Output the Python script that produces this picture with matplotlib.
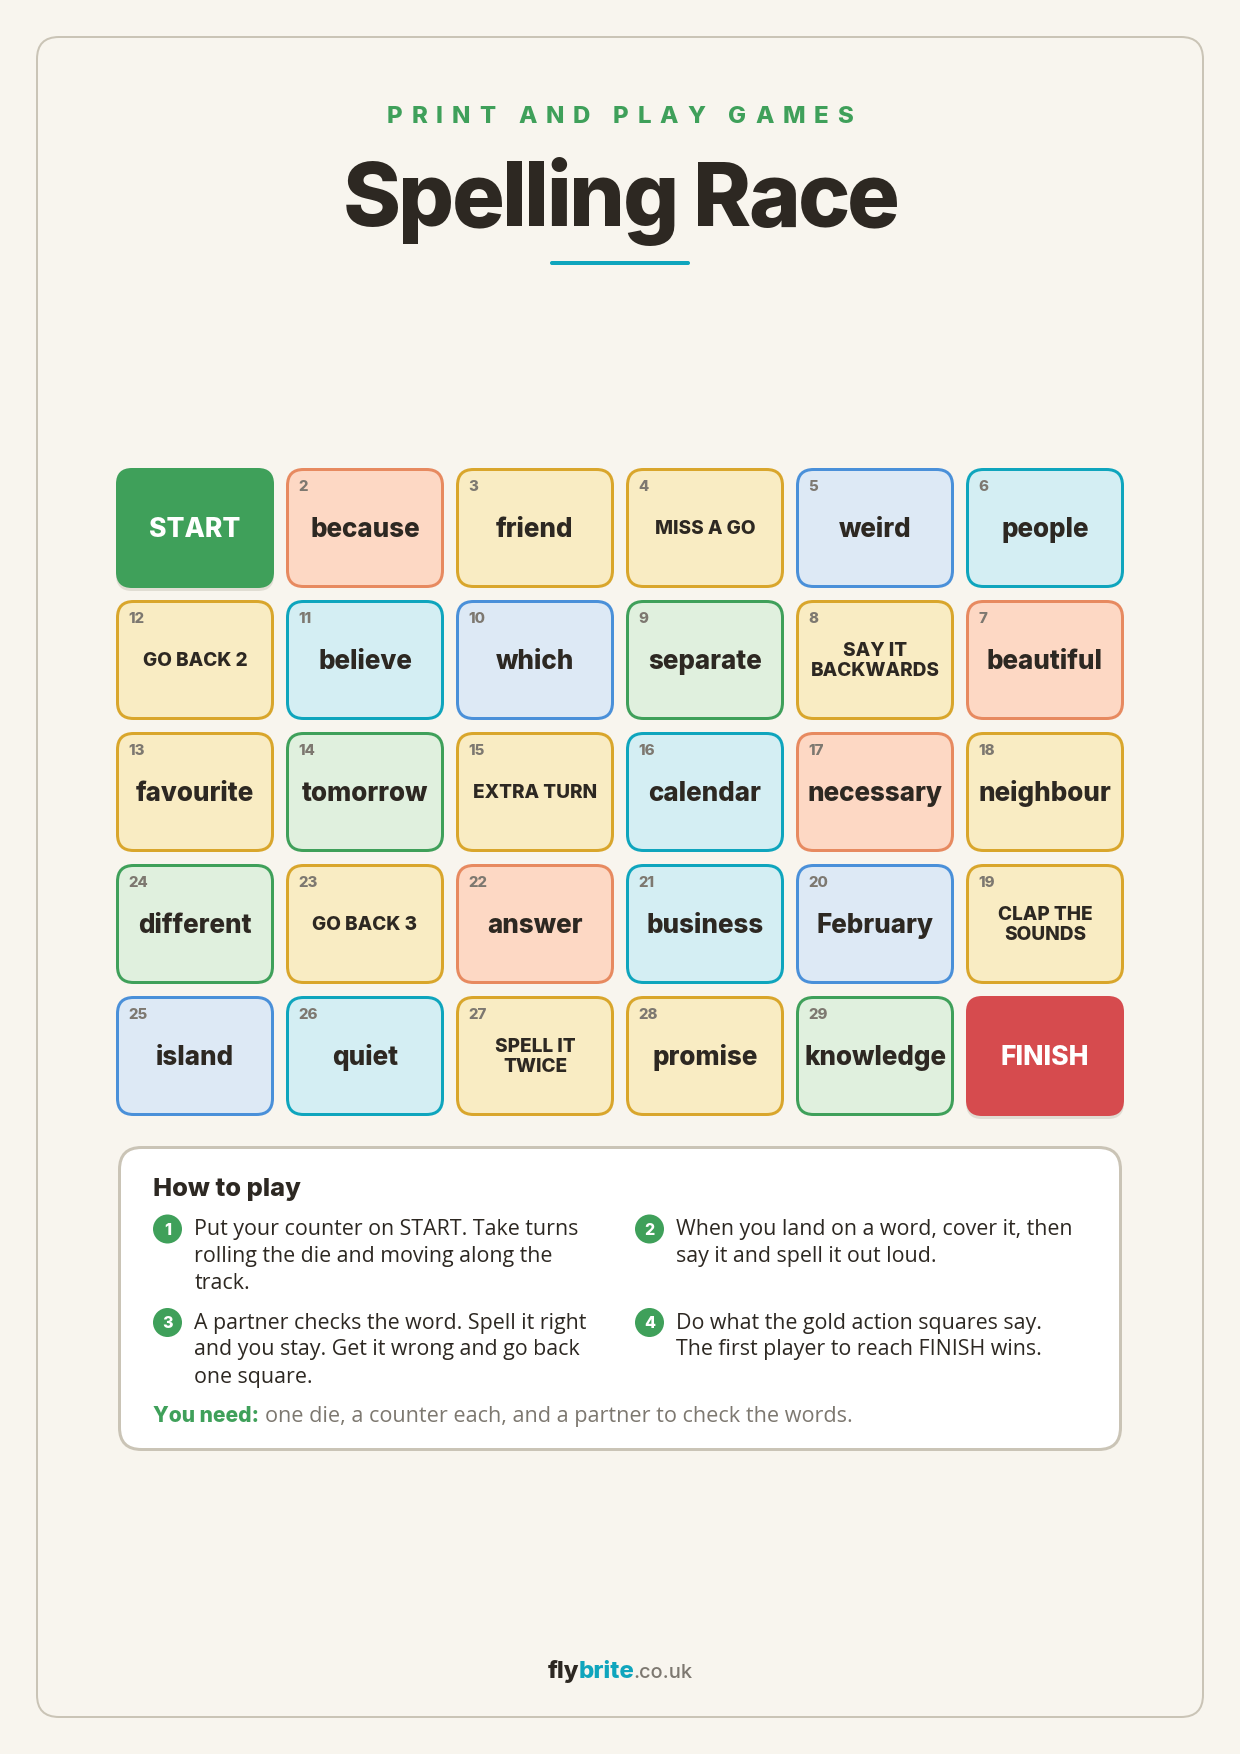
import matplotlib
matplotlib.use('Agg')
import matplotlib.pyplot as plt
from matplotlib.font_manager import FontProperties
from matplotlib.patches import FancyBboxPatch, Circle
from matplotlib.textpath import text_to_path

# Board, row by row as printed. Track numbers snake back on odd rows.
numbers = [
    [None, 2, 3, 4, 5, 6],
    [12, 11, 10, 9, 8, 7],
    [13, 14, 15, 16, 17, 18],
    [24, 23, 22, 21, 20, 19],
    [25, 26, 27, 28, 29, None],
]
words = [
    ['START', 'because', 'friend', 'MISS A GO', 'weird', 'people'],
    ['GO BACK 2', 'believe', 'which', 'separate', 'SAY IT\nBACKWARDS', 'beautiful'],
    ['favourite', 'tomorrow', 'EXTRA TURN', 'calendar', 'necessary', 'neighbour'],
    ['different', 'GO BACK 3', 'answer', 'business', 'February', 'CLAP THE\nSOUNDS'],
    ['island', 'quiet', 'SPELL IT\nTWICE', 'promise', 'knowledge', 'FINISH'],
]
kinds = [
    ['start', 'coral', 'gold', 'action', 'blue', 'teal'],
    ['action', 'teal', 'blue', 'green', 'action', 'coral'],
    ['gold', 'green', 'action', 'teal', 'coral', 'gold'],
    ['green', 'action', 'coral', 'teal', 'blue', 'action'],
    ['blue', 'teal', 'action', 'gold', 'green', 'finish'],
]
steps = [
    ['Put your counter on START. Take turns', 'rolling the die and moving along the', 'track.'],
    ['When you land on a word, cover it, then', 'say it and spell it out loud.'],
    ['A partner checks the word. Spell it right', 'and you stay. Get it wrong and go back', 'one square.'],
    ['Do what the gold action squares say.', 'The first player to reach FINISH wins.'],
]

BG = '#F8F5EE'
LINE = '#CAC4B6'
INK = '#2D2822'
GREY = '#7D7870'
GREEN = '#3FA05A'
TEAL = '#0FA5BD'
# fill, edge
colours = {
    'coral': ('#FDD8C4', '#E78A60'),
    'gold': ('#F9ECC3', '#D9A62C'),
    'action': ('#F9ECC3', '#D9A62C'),
    'blue': ('#DDE9F5', '#4A90D9'),
    'teal': ('#D4EEF3', '#0FA5BD'),
    'green': ('#E0F0DE', '#3FA05A'),
    'start': (GREEN, GREEN),
    'finish': ('#D64B4E', '#D64B4E'),
}

HEAD = 'Inter'
BODY = 'Open Sans'
PX = 0.72  # points per pixel at dpi 100

fig = plt.figure(figsize=(12.4, 17.54), dpi=100, facecolor=BG)
ax = fig.add_axes([0, 0, 1, 1])
ax.set_xlim(0, 1240)
ax.set_ylim(1754, 0)
ax.axis('off')


def box(x, y, w, h, r, fc, ec=None, lw=0, z=1):
    # border sits inside the box, like css
    p = FancyBboxPatch((x + lw / 2, y + lw / 2), w - lw, h - lw,
                       boxstyle=f'round,pad=0,rounding_size={r}',
                       fc=fc, ec=ec if ec else 'none', lw=lw * PX, zorder=z)
    ax.add_patch(p)


def label(x, y, s, size, color, weight=800, family=HEAD, ha='left'):
    return ax.text(x, y, s, fontsize=size * PX, color=color, fontweight=weight,
                   family=family, ha=ha, va='baseline', zorder=5)


def advance(s, size, weight, family):
    prop = FontProperties(family=family, weight=weight, size=size * PX)
    w, _, _ = text_to_path.get_text_width_height_descent(s, prop, False)
    return w / 0.72  # back to pixels


def tracked(cx, y, s, size, color, track, weight=800, family=HEAD):
    # letter-spacing: one text per letter, kerning kept from the prefix width
    total = advance(s, size, weight, family) + track * (len(s) - 1)
    x0 = cx - total / 2
    for i, ch in enumerate(s):
        if ch != ' ':
            label(x0 + advance(s[:i], size, weight, family) + track * i, y, ch,
                  size, color, weight, family)


# page frame
box(36, 36, 1168, 1682, 22, 'none', LINE, 2)

# heading
tracked(620, 123, 'PRINT AND PLAY GAMES', 24, GREEN, 8.85)
tracked(621.5, 226, 'Spelling Race', 88, INK, -2.6)
box(550, 261, 140, 4, 2, TEAL)

# board
X0, Y0 = 116, 468
PITCH_X, PITCH_Y = 170, 132
W, H = 158, 120
for r, row in enumerate(words):
    for c, word in enumerate(row):
        x = X0 + c * PITCH_X
        y = Y0 + r * PITCH_Y
        kind = kinds[r][c]
        fc, ec = colours[kind]
        if kind in ('start', 'finish'):
            box(x, y + 3, W, H, 16, '#E0DDD3')
            box(x, y, W, H, 16, fc)
            label(x + W / 2, y + 69, word, 26.5, 'white', ha='center')
            continue
        box(x, y, W, H, 16, fc, ec, 3)
        label(x + 12.5, y + 23, str(numbers[r][c]), 15, GREY)
        if kind == 'action':
            lines = word.split('\n')
            base = y + 66 - (len(lines) - 1) * 10
            for i, line in enumerate(lines):
                label(x + W / 2, base + i * 20, line, 19, INK, ha='center')
        else:
            label(x + W / 2, y + 69, word, 26, INK, ha='center')

# how to play panel
box(118, 1146, 1004, 305, 22, 'white', LINE, 3)
label(153, 1196, 'How to play', 25.5, INK)
step_x = [167.5, 649.5, 167.5, 649.5]
step_y = [1229, 1229, 1322.5, 1322.5]
for n, lines in enumerate(steps):
    ax.add_patch(Circle((step_x[n], step_y[n]), 14.5, fc=GREEN, ec='none', zorder=4))
    label(step_x[n], step_y[n] + 6, str(n + 1), 16, 'white', ha='center')
    for i, line in enumerate(lines):
        label(step_x[n] + 27, step_y[n] + 6 + i * 27, line, 21.4, INK, weight='normal', family=BODY)

t = label(153, 1422, 'You need:', 21, GREEN)
fig.canvas.draw()
end = t.get_window_extent().x1
label(end + 6, 1422, 'one die, a counter each, and a partner to check the words.', 21.7, GREY,
      weight='normal', family=BODY)

# footer
x = 548
for s, col, sz, wt in [('fly', INK, 24, 800), ('brite', TEAL, 24, 800), ('.co.uk', GREY, 20, 500)]:
    label(x, 1678, s, sz, col, weight=wt)
    x += advance(s, sz, wt, HEAD) - 1

fig.savefig('out.png', dpi=100, facecolor=BG)
